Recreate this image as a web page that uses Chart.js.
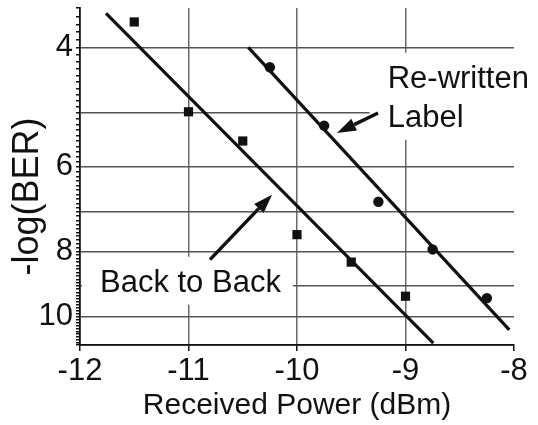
<!DOCTYPE html>
<html>
<head>
<meta charset="utf-8">
<script src="https://cdn.jsdelivr.net/npm/chart.js@4.4.1/dist/chart.umd.min.js"></script>
<style>
  html, body { margin: 0; padding: 0; background: #fff; }
</style>
</head>
<body>
<canvas id="ber" width="538" height="425"></canvas>
<script>
// Back to Back measurements
const b2bPower = [-11.5, -11, -10.5, -10, -9.5, -9];
const b2bLogBer = [3.67, 4.98, 5.50, 7.56, 8.30, 9.32];
// Re-written Label measurements
const rwPower = [-10.25, -9.75, -9.25, -8.75, -8.25];
const rwLogBer = [4.28, 5.22, 6.76, 7.95, 9.38];
// fitted lines (end points)
const b2bFitPower = [-11.76, -8.744];
const b2bFitLogBer = [3.565, 10.93];
const rwFitPower = [-10.449, -8.043];
const rwFitLogBer = [4.0, 10.45];
// axes
const xTicks = [-12, -11, -10, -9, -8];
const yLabelled = [4, 6, 8, 10];

const FONT = '"Liberation Sans", Arial, Helvetica, sans-serif';
Chart.defaults.font.family = FONT;
Chart.defaults.color = '#111';

function pts(xs, ys) {
  return xs.map((v, i) => ({x: v, y: ys[i]}));
}

// text notes and arrows, given in data units
const notes = [
  {x: -9.164, y: 4.59, lines: ['Re-written', 'Label']},
  {x: -11.816, y: 9.18, lines: ['Back to Back']}
];
const arrows = [
  {from: [-9.253, 5.0], to: [-9.631, 5.35]},
  {from: [-10.802, 8.23], to: [-10.23, 6.60]}
];

const annotate = {
  id: 'annotate',
  beforeDatasetsDraw(chart) {
    const {ctx, scales: {x, y}} = chart;
    ctx.save();
    ctx.font = '31px ' + FONT;
    ctx.textBaseline = 'alphabetic';
    ctx.textAlign = 'left';
    notes.forEach(n => {
      const px = x.getPixelForValue(n.x);
      const py = y.getPixelForValue(n.y);
      const w = Math.max(...n.lines.map(t => ctx.measureText(t).width));
      ctx.fillStyle = '#fff';
      ctx.fillRect(px - 18, py - 35, w + 30, (n.lines.length - 1) * 39 + 48);
      ctx.fillStyle = '#111';
      n.lines.forEach((t, i) => ctx.fillText(t, px, py + i * 39));
    });
    ctx.restore();
  },
  afterDatasetsDraw(chart) {
    const {ctx, scales: {x, y}} = chart;
    ctx.save();
    ctx.strokeStyle = '#111';
    ctx.fillStyle = '#111';
    ctx.lineWidth = 3.5;
    arrows.forEach(a => {
      const x0 = x.getPixelForValue(a.from[0]), y0 = y.getPixelForValue(a.from[1]);
      const x1 = x.getPixelForValue(a.to[0]), y1 = y.getPixelForValue(a.to[1]);
      const ang = Math.atan2(y1 - y0, x1 - x0);
      const len = 19, half = 6.5;
      const bx = x1 - len * Math.cos(ang), by = y1 - len * Math.sin(ang);
      ctx.beginPath();
      ctx.moveTo(x0, y0);
      ctx.lineTo(bx, by);
      ctx.stroke();
      ctx.beginPath();
      ctx.moveTo(x1, y1);
      ctx.lineTo(bx + half * Math.sin(ang), by - half * Math.cos(ang));
      ctx.lineTo(bx - half * Math.sin(ang), by + half * Math.cos(ang));
      ctx.closePath();
      ctx.fill();
    });
    ctx.restore();
  }
};

const isInt = v => Math.abs(v - Math.round(v)) < 1e-6;

new Chart(document.getElementById('ber'), {
  type: 'scatter',
  data: {
    datasets: [
      {
        label: 'Back to Back fit',
        data: pts(b2bFitPower, b2bFitLogBer),
        showLine: true,
        borderColor: '#111',
        borderWidth: 3.2,
        pointRadius: 0
      },
      {
        label: 'Re-written Label fit',
        data: pts(rwFitPower, rwFitLogBer),
        showLine: true,
        borderColor: '#111',
        borderWidth: 3.2,
        pointRadius: 0
      },
      {
        label: 'Back to Back',
        data: pts(b2bPower, b2bLogBer),
        pointStyle: 'rect',
        pointRadius: 6.5,
        backgroundColor: '#111',
        borderColor: '#111',
        borderWidth: 0
      },
      {
        label: 'Re-written Label',
        data: pts(rwPower, rwLogBer),
        pointStyle: 'circle',
        pointRadius: 5.2,
        backgroundColor: '#111',
        borderColor: '#111',
        borderWidth: 0
      }
    ]
  },
  options: {
    responsive: false,
    animation: false,
    layout: { padding: { top: 8, right: 24, left: 0, bottom: 0 } },
    plugins: {
      legend: { display: false },
      tooltip: { enabled: false }
    },
    scales: {
      x: {
        type: 'linear',
        min: -12,
        max: -8,
        afterBuildTicks: s => { s.ticks = xTicks.map(v => ({value: v})); },
        afterFit: s => { s.height = 80; s.paddingLeft = 0; s.paddingRight = 0; },
        ticks: {
          font: { size: 31 },
          padding: 2,
          callback: v => String(v)
        },
        grid: {
          color: c => (c.tick && c.tick.value > -12 && c.tick.value < -8) ? '#6a6a6a' : 'rgba(0,0,0,0)',
          tickColor: '#111',
          lineWidth: 1.5,
          tickLength: 6
        },
        border: { color: '#111', width: 1.8 },
        title: {
          display: true,
          text: 'Received Power (dBm)',
          font: { size: 30 },
          padding: { top: 0, bottom: 1 }
        }
      },
      y: {
        type: 'logarithmic',
        reverse: true,
        min: 3.5,
        max: 11,
        afterBuildTicks: s => {
          const t = [];
          for (let i = 35; i <= 110; i++) t.push({value: i / 10});
          s.ticks = t;
        },
        afterFit: s => { s.width = 80; s.paddingTop = 0; s.paddingBottom = 0; },
        ticks: {
          autoSkip: false,
          font: { size: 31 },
          padding: 3,
          callback: v => {
            const r = Math.round(v * 10) / 10;
            return yLabelled.includes(r) ? String(r) : '';
          }
        },
        grid: {
          color: c => (c.tick && isInt(c.tick.value)) ? '#555' : 'rgba(0,0,0,0)',
          tickColor: '#111',
          lineWidth: 1.5,
          tickLength: 4
        },
        border: { color: '#111', width: 1.8 },
        title: {
          display: true,
          text: '-log(BER)    ',
          font: { size: 36 },
          padding: { top: 6, bottom: 0 }
        }
      }
    }
  },
  plugins: [annotate]
});
</script>
</body>
</html>
